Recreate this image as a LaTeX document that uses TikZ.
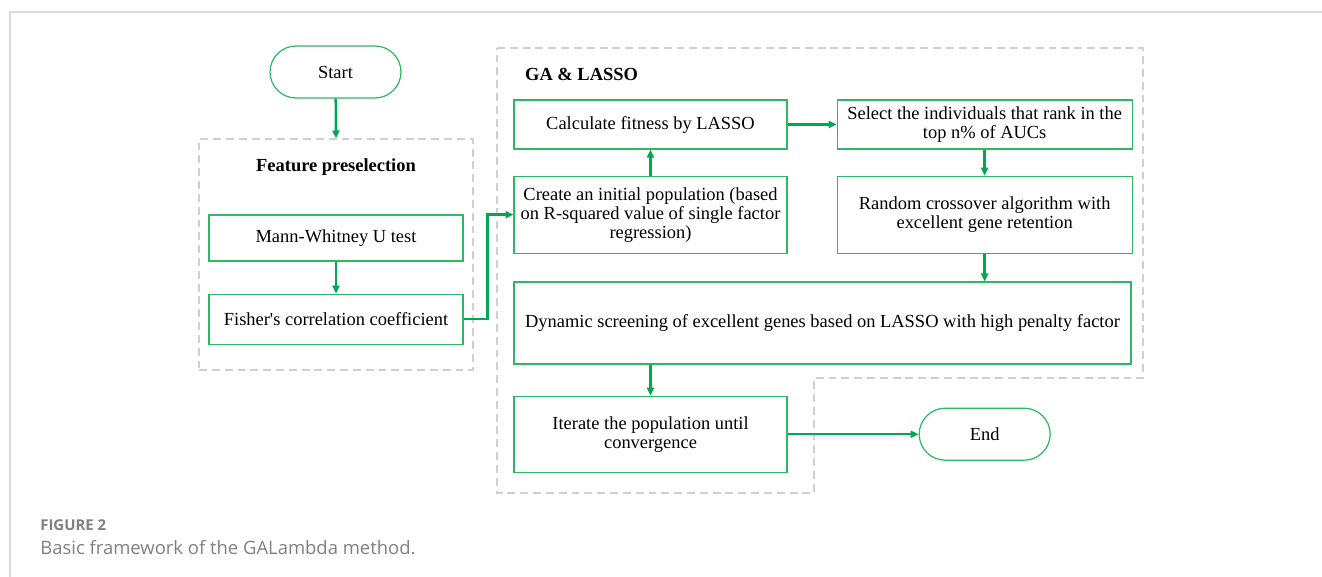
\documentclass[tikz,border=0pt]{standalone}
\usepackage{fontspec}
\setmainfont{Liberation Serif}
\newfontfamily\captionfont{Open Sans}
\usetikzlibrary{arrows.meta,positioning}
\definecolor{leaf}{HTML}{2DB866}
\definecolor{leafdark}{HTML}{00A84F}
\definecolor{bk30}{HTML}{D0D0D0}
\definecolor{bk20}{HTML}{DADADA}
\definecolor{bk60}{HTML}{808080}
\tikzset{
  stepbox/.style={
    rectangle, draw=leaf, line width=0.7pt,
    minimum width=#1, font=\fontsize{10.5}{10.8}\selectfont,
    align=center, inner sep=3pt
  },
  stepbox/.default=5.46cm,
  termbox/.style={
    rectangle, rounded corners=0.52cm, draw=leaf, line width=0.7pt,
    minimum width=2.62cm, minimum height=1.04cm,
    font=\fontsize{10.5}{11}\selectfont
  },
  groupbox/.style={
    draw=bk30, dash pattern=on 4.5pt off 2.8pt, line width=0.7pt
  },
  flowarrow/.style={
    -{Stealth[length=4.5pt, width=4pt, inset=0pt]}, line width=1.4pt, color=leafdark
  },
  titlenode/.style={
    font=\fontsize{10.5}{12}\selectfont\bfseries
  },
  captext/.style={
    font=\captionfont\fontsize{#1}{13}\selectfont, color=bk60, anchor=west, inner sep=0pt
  },
  captext/.default=10,
}

\begin{document}
\begin{tikzpicture}[x=0.02cm, y=-0.02cm]
\useasboundingbox (0,0) rectangle (1322,577);

% page frame
\draw[bk20, line width=1pt] (10,577) -- (10,12) -- (1322,12);

% Feature preselection group
\node[groupbox, minimum width=5.48cm, minimum height=4.62cm] (prebox) at (336,254.5) {};
\node[titlenode] (pretitle) at (336,167) {Feature preselection};
\node[stepbox=5.08cm, minimum height=0.92cm] (mann) at (336,238) {Mann-Whitney U test};
\node[stepbox=5.08cm, minimum height=1.0cm, below=0.64cm of mann] (fisher)
  {Fisher\textquotesingle s correlation coefficient};

\node[termbox] (start) at (335.5,72) {Start};

% GA & LASSO group
\draw[groupbox] (497,48) -- (1143,48) -- (1143,378) -- (814,378)
  -- (814,493) -- (497,493) -- cycle;
\node[titlenode, anchor=west] (gatitle) at (519,74) {GA \& LASSO};

\node[stepbox, minimum height=0.98cm] (calc) at (650.5,124.5) {Calculate fitness by LASSO};
\node[stepbox, minimum height=1.54cm, below=0.52cm of calc] (create)
  {Create an initial population (based\\on R-squared value of single factor\\regression)};
\node[stepbox=5.9cm, minimum height=0.98cm, right=0.98cm of calc] (select)
  {Select the individuals that rank in the\\top n\% of AUCs};
\node[stepbox=5.9cm, minimum height=1.54cm, below=0.52cm of select] (cross)
  {Random crossover algorithm with\\excellent gene retention};
\node[stepbox=12.34cm, minimum height=1.64cm] (dynamic) at (822.5,323)
  {Dynamic screening of excellent genes based on LASSO with high penalty factor};
\node[stepbox, minimum height=1.52cm, below right=0.62cm and 0cm of dynamic.south west] (iterate)
  {Iterate the population until\\convergence};
\node[termbox, right=2.62cm of iterate] (finish) {End};

% connectors
\draw[flowarrow] (start) -- (prebox.north);
\draw[flowarrow] (mann) -- (fisher);
\draw[flowarrow] (fisher.east) -- ++(24,0) |- (create.west);
\draw[flowarrow] (create) -- (calc);
\draw[flowarrow] (calc) -- (select);
\draw[flowarrow] (select) -- (cross);
\draw[flowarrow] (cross.south) -- (cross.south |- dynamic.north);
\draw[flowarrow] (iterate.north |- dynamic.south) -- (iterate.north);
\draw[flowarrow] (iterate) -- (finish);

% caption
\node[captext=8.5, font=\captionfont\fontsize{8.5}{13}\selectfont\bfseries] (figlabel) at (40,525) {FIGURE 2};
\node[captext=10.5] (figcaption) at (40,548) {Basic framework of the GALambda method.};

\end{tikzpicture}
\end{document}
